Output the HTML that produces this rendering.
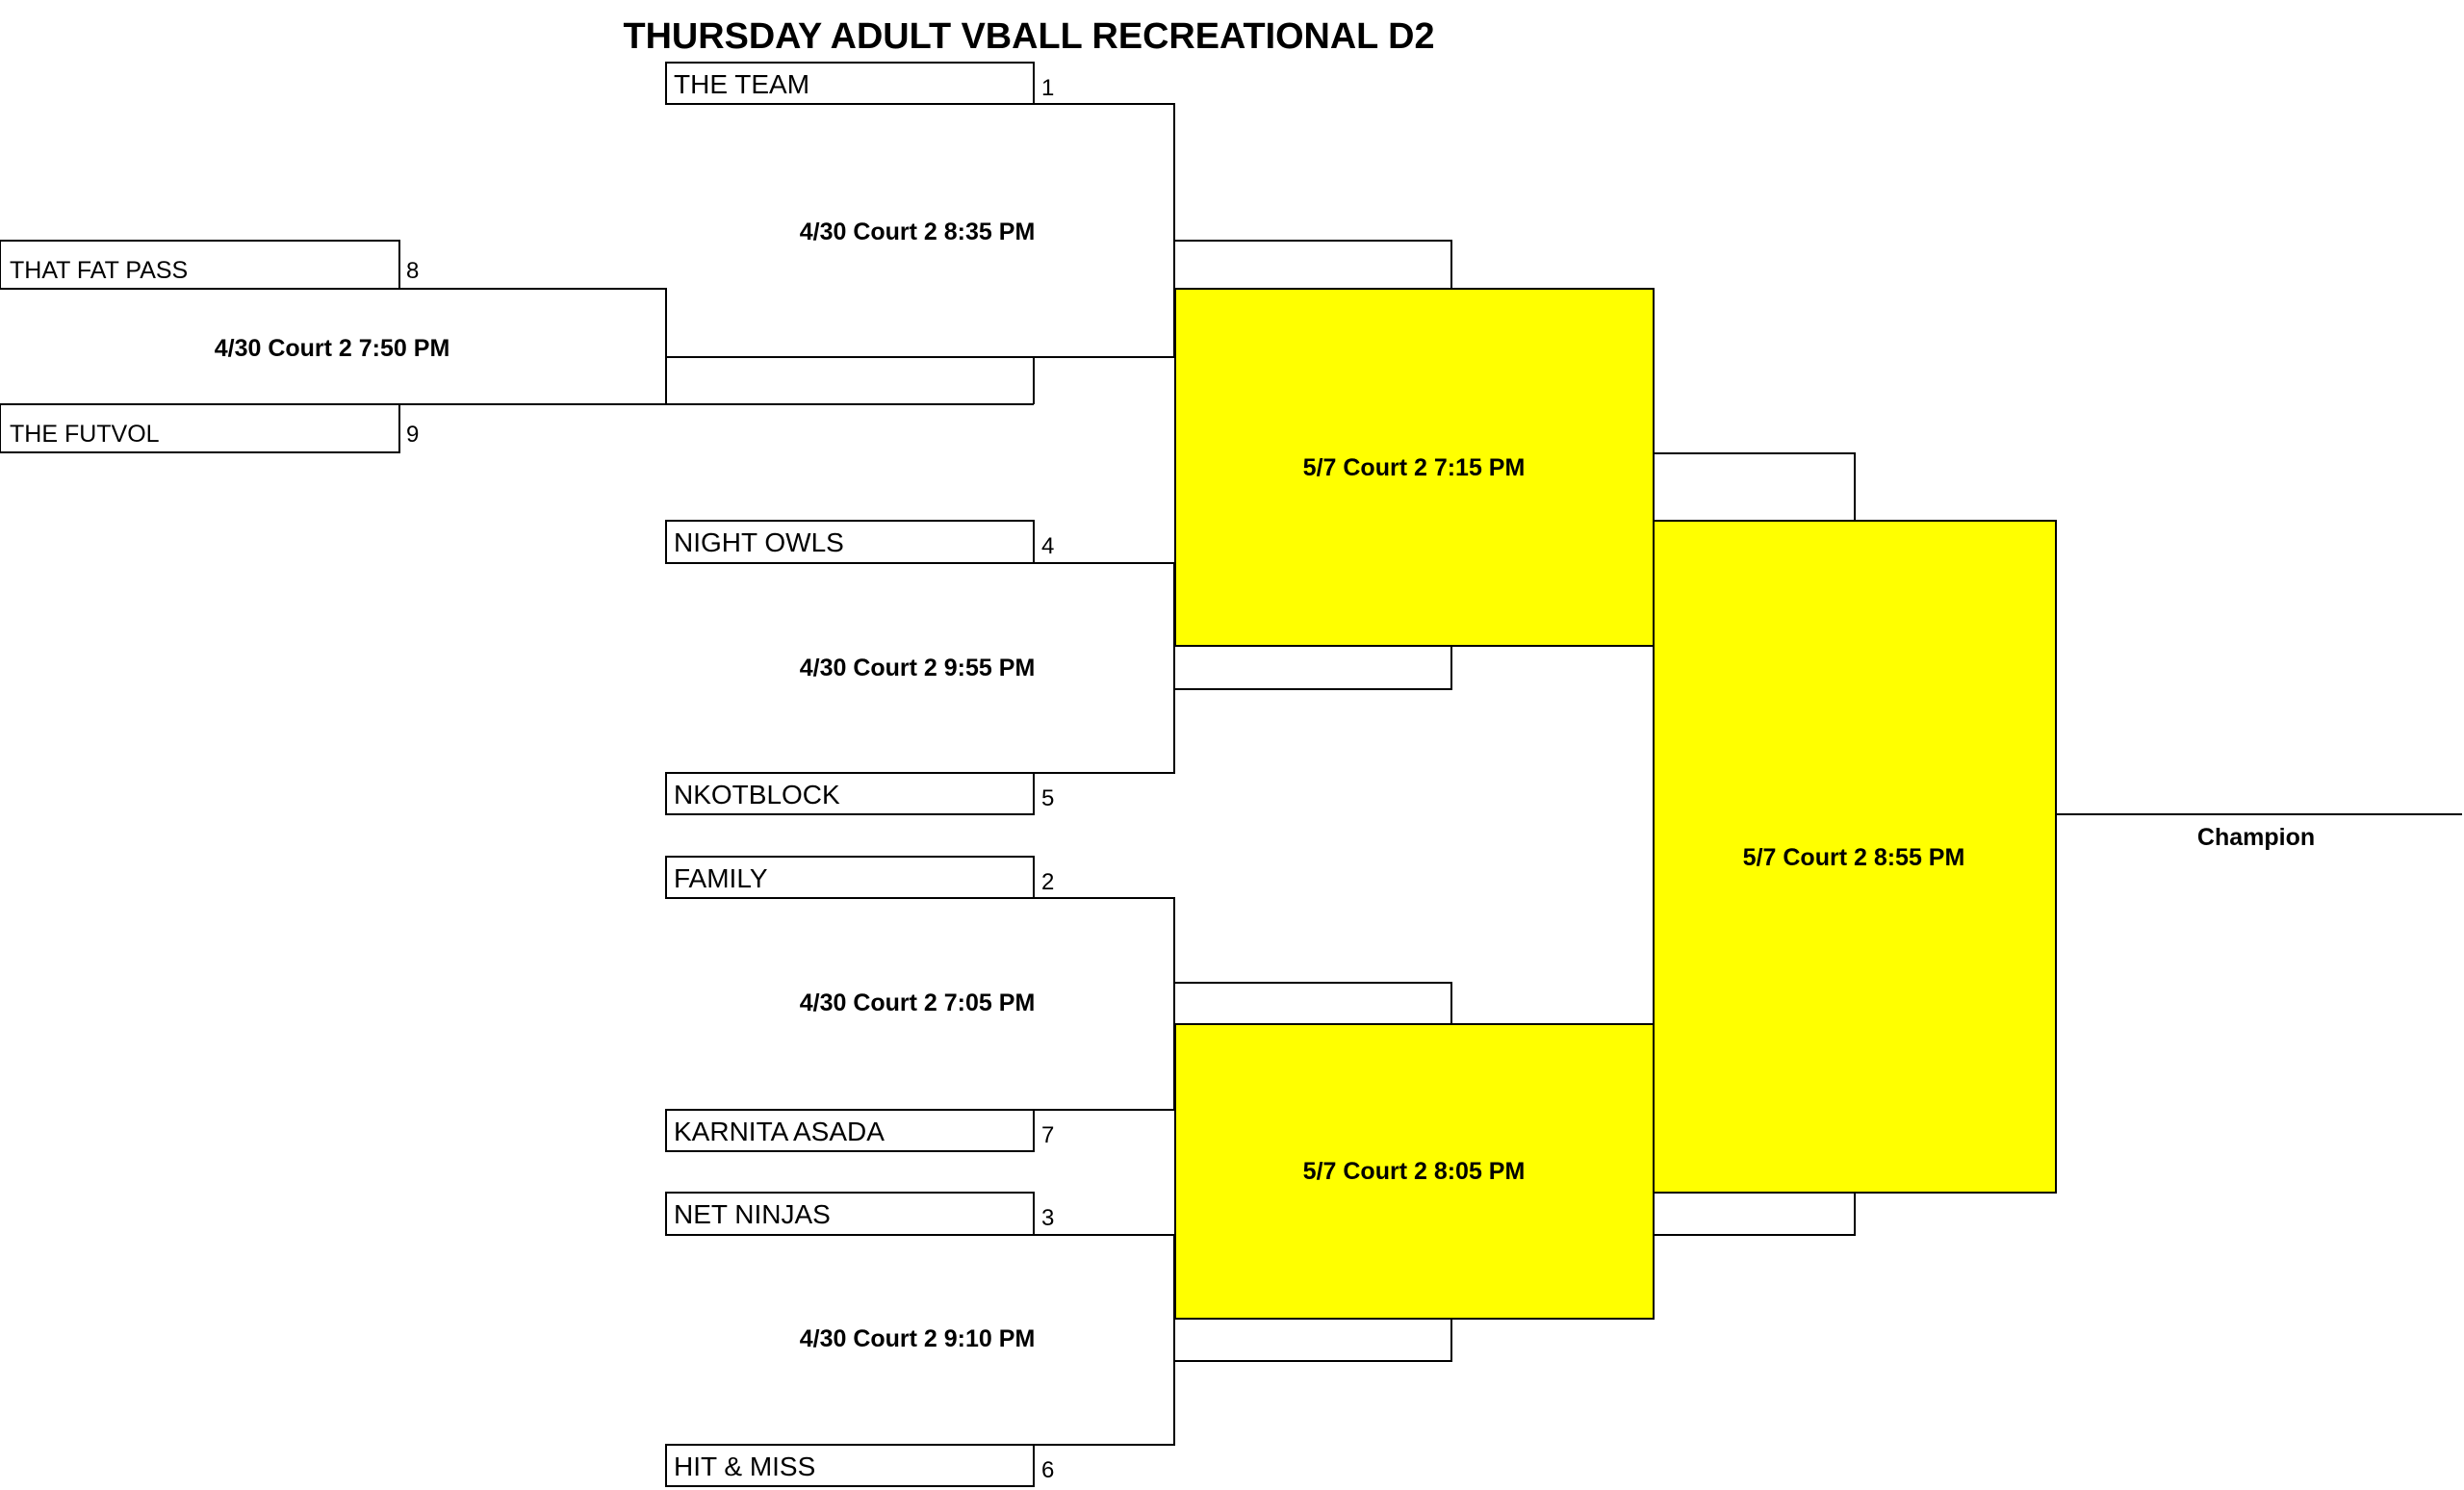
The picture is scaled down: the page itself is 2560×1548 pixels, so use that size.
<!DOCTYPE html>
<html><head><meta charset="utf-8"><style>
html,body{margin:0;padding:0;background:#fff;}
svg{display:block}
text{font-family:"Liberation Sans",Arial,sans-serif;fill:#000}
.t{font-size:28px}
.ts{font-size:25px}
.n{font-size:24px}
.g{font-size:25px;font-weight:bold;text-anchor:middle}
</style></head><body>
<svg width="2560" height="1548" viewBox="0 0 2560 1548" xmlns="http://www.w3.org/2000/svg">
<g fill="none" stroke="#000" stroke-width="2">
<!-- play-in -->
<rect x="0" y="250" width="415" height="50"/>
<rect x="0" y="420" width="415" height="50"/>
<polyline points="415,300 692,300 692,420"/>
<line x1="0" y1="420" x2="1074" y2="420"/>
<polyline points="1074,420 1074,371"/>
<!-- team boxes -->
<rect x="692" y="65" width="382" height="43"/>
<rect x="692" y="541" width="382" height="44"/>
<rect x="692" y="803" width="382" height="43"/>
<rect x="692" y="890" width="382" height="43"/>
<rect x="692" y="1153" width="382" height="43"/>
<rect x="692" y="1239" width="382" height="44"/>
<rect x="692" y="1501" width="382" height="43"/>
<!-- round 1 brackets -->
<polyline points="1074,108 1220,108 1220,371 692,371"/>
<polyline points="1074,585 1220,585 1220,803 1074,803"/>
<polyline points="1074,933 1220,933 1220,1153 1074,1153"/>
<polyline points="1074,1283 1220,1283 1220,1501 1074,1501"/>
<!-- round 2 connectors -->
<polyline points="1220,250 1508,250 1508,300"/>
<polyline points="1220,716 1508,716 1508,671"/>
<polyline points="1220,1021 1508,1021 1508,1064"/>
<polyline points="1220,1414 1508,1414 1508,1370"/>
<polyline points="1718,471 1927,471 1927,541"/>
<polyline points="1718,1283 1927,1283 1927,1239"/>
<line x1="2136" y1="846" x2="2558" y2="846"/>
</g>
<g fill="#ffff00" stroke="#000" stroke-width="2">
<rect x="1221" y="300" width="497" height="371"/>
<rect x="1221" y="1064" width="497" height="306"/>
<rect x="1718" y="541" width="418" height="698"/>
</g>
<text x="1069" y="50" font-size="38" font-weight="bold" text-anchor="middle" textLength="843" lengthAdjust="spacingAndGlyphs">THURSDAY ADULT VBALL RECREATIONAL D2</text>
<text class="ts" x="10" y="289">THAT FAT PASS</text>
<text class="ts" x="10" y="459">THE FUTVOL</text>
<text class="n" x="422" y="289">8</text>
<text class="n" x="422" y="459">9</text>
<text class="t" x="700" y="97">THE TEAM</text><text class="n" x="1082" y="99">1</text>
<text class="t" x="700" y="573">NIGHT OWLS</text><text class="n" x="1082" y="575">4</text>
<text class="t" x="700" y="835">NKOTBLOCK</text><text class="n" x="1082" y="837">5</text>
<text class="t" x="700" y="922">FAMILY</text><text class="n" x="1082" y="924">2</text>
<text class="t" x="700" y="1185">KARNITA ASADA</text><text class="n" x="1082" y="1187">7</text>
<text class="t" x="700" y="1271">NET NINJAS</text><text class="n" x="1082" y="1273">3</text>
<text class="t" x="700" y="1533">HIT &amp; MISS</text><text class="n" x="1082" y="1535">6</text>
<text class="g" x="345" y="370">4/30 Court 2 7:50 PM</text>
<text class="g" x="953" y="249">4/30 Court 2 8:35 PM</text>
<text class="g" x="953" y="702">4/30 Court 2 9:55 PM</text>
<text class="g" x="953" y="1050">4/30 Court 2 7:05 PM</text>
<text class="g" x="953" y="1399">4/30 Court 2 9:10 PM</text>
<text class="g" x="1469" y="494">5/7 Court 2 7:15 PM</text>
<text class="g" x="1469" y="1225">5/7 Court 2 8:05 PM</text>
<text class="g" x="1926" y="899">5/7 Court 2 8:55 PM</text>
<text class="g" x="2344" y="878">Champion</text>
</svg>
</body></html>
